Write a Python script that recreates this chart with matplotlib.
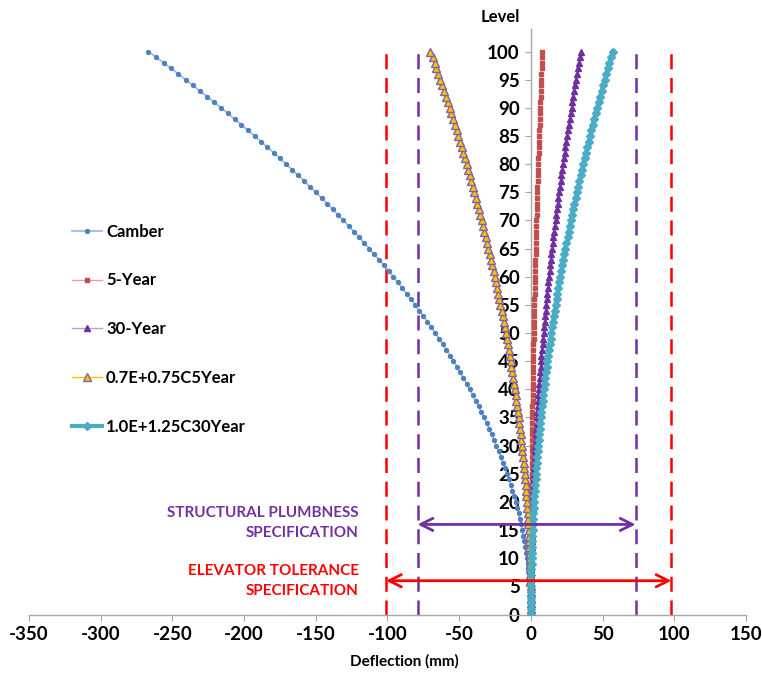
import matplotlib
matplotlib.use('Agg')
import matplotlib.pyplot as plt

plt.rcParams['font.family'] = ['Lato', 'DejaVu Sans']
plt.rcParams['font.weight'] = 'bold'
plt.rcParams['axes.unicode_minus'] = False

# storey levels and deflections (mm)
levels = list(range(101))

camber = [0.0, 0.0, -0.1, -0.2, -0.4, -0.7, -1.0, -1.3, -1.7, -2.2,
          -2.7, -3.2, -3.8, -4.5, -5.2, -6.0, -6.8, -7.7, -8.6, -9.6,
          -10.7, -11.8, -12.9, -14.1, -15.4, -16.7, -18.0, -19.4, -20.9, -22.4,
          -24.0, -25.6, -27.3, -29.0, -30.8, -32.7, -34.6, -36.5, -38.5, -40.6,
          -42.7, -44.8, -47.0, -49.3, -51.6, -54.0, -56.4, -58.9, -61.4, -64.0,
          -66.7, -69.4, -72.1, -74.9, -77.8, -80.7, -83.6, -86.7, -89.7, -92.8,
          -96.0, -99.2, -102.5, -105.9, -109.2, -112.7, -116.2, -119.7, -123.3, -127.0,
          -130.7, -134.4, -138.3, -142.1, -146.0, -150.0, -154.0, -158.1, -162.3, -166.4,
          -170.7, -175.0, -179.3, -183.7, -188.2, -192.7, -197.3, -201.9, -206.5, -211.3,
          -216.0, -220.9, -225.7, -230.7, -235.7, -240.7, -245.8, -250.9, -256.1, -261.4,
          -266.7]

year5 = [0.0, 0.0, 0.0, 0.0, 0.0, 0.0, 0.0, 0.0, 0.1, 0.1,
         0.1, 0.1, 0.1, 0.1, 0.2, 0.2, 0.2, 0.2, 0.3, 0.3,
         0.3, 0.4, 0.4, 0.4, 0.5, 0.5, 0.5, 0.6, 0.6, 0.7,
         0.7, 0.8, 0.8, 0.9, 0.9, 1.0, 1.0, 1.1, 1.2, 1.2,
         1.3, 1.3, 1.4, 1.5, 1.5, 1.6, 1.7, 1.8, 1.8, 1.9,
         2.0, 2.1, 2.2, 2.2, 2.3, 2.4, 2.5, 2.6, 2.7, 2.8,
         2.9, 3.0, 3.1, 3.2, 3.3, 3.4, 3.5, 3.6, 3.7, 3.8,
         3.9, 4.0, 4.1, 4.3, 4.4, 4.5, 4.6, 4.7, 4.9, 5.0,
         5.1, 5.2, 5.4, 5.5, 5.6, 5.8, 5.9, 6.1, 6.2, 6.3,
         6.5, 6.6, 6.8, 6.9, 7.1, 7.2, 7.4, 7.5, 7.7, 7.8,
         8.0]

year30 = [0.0, 0.0, 0.0, 0.0, 0.1, 0.1, 0.1, 0.2, 0.2, 0.3,
          0.4, 0.4, 0.5, 0.6, 0.7, 0.8, 0.9, 1.0, 1.1, 1.3,
          1.4, 1.5, 1.7, 1.9, 2.0, 2.2, 2.4, 2.6, 2.7, 2.9,
          3.2, 3.4, 3.6, 3.8, 4.0, 4.3, 4.5, 4.8, 5.1, 5.3,
          5.6, 5.9, 6.2, 6.5, 6.8, 7.1, 7.4, 7.7, 8.1, 8.4,
          8.8, 9.1, 9.5, 9.8, 10.2, 10.6, 11.0, 11.4, 11.8, 12.2,
          12.6, 13.0, 13.5, 13.9, 14.3, 14.8, 15.2, 15.7, 16.2, 16.7,
          17.2, 17.6, 18.1, 18.7, 19.2, 19.7, 20.2, 20.8, 21.3, 21.8,
          22.4, 23.0, 23.5, 24.1, 24.7, 25.3, 25.9, 26.5, 27.1, 27.7,
          28.4, 29.0, 29.6, 30.3, 30.9, 31.6, 32.3, 32.9, 33.6, 34.3,
          35.0]

combo5 = [0.0, 0.0, 0.0, -0.1, -0.1, -0.2, -0.3, -0.3, -0.4, -0.6,
          -0.7, -0.8, -1.0, -1.2, -1.4, -1.6, -1.8, -2.0, -2.3, -2.5,
          -2.8, -3.1, -3.4, -3.7, -4.0, -4.4, -4.7, -5.1, -5.5, -5.9,
          -6.3, -6.7, -7.2, -7.6, -8.1, -8.6, -9.1, -9.6, -10.1, -10.6,
          -11.2, -11.8, -12.3, -12.9, -13.6, -14.2, -14.8, -15.5, -16.1, -16.8,
          -17.5, -18.2, -18.9, -19.7, -20.4, -21.2, -22.0, -22.7, -23.5, -24.4,
          -25.2, -26.0, -26.9, -27.8, -28.7, -29.6, -30.5, -31.4, -32.4, -33.3,
          -34.3, -35.3, -36.3, -37.3, -38.3, -39.4, -40.4, -41.5, -42.6, -43.7,
          -44.8, -45.9, -47.1, -48.2, -49.4, -50.6, -51.8, -53.0, -54.2, -55.4,
          -56.7, -58.0, -59.2, -60.5, -61.9, -63.2, -64.5, -65.9, -67.2, -68.6,
          -70.0]

combo30 = [0.0, 0.0, 0.0, 0.1, 0.1, 0.1, 0.2, 0.3, 0.4, 0.5,
           0.6, 0.7, 0.8, 1.0, 1.1, 1.3, 1.5, 1.6, 1.8, 2.1,
           2.3, 2.5, 2.8, 3.0, 3.3, 3.6, 3.9, 4.2, 4.5, 4.8,
           5.1, 5.5, 5.8, 6.2, 6.6, 7.0, 7.4, 7.8, 8.2, 8.7,
           9.1, 9.6, 10.1, 10.5, 11.0, 11.5, 12.1, 12.6, 13.1, 13.7,
           14.3, 14.8, 15.4, 16.0, 16.6, 17.2, 17.9, 18.5, 19.2, 19.8,
           20.5, 21.2, 21.9, 22.6, 23.3, 24.1, 24.8, 25.6, 26.4, 27.1,
           27.9, 28.7, 29.5, 30.4, 31.2, 32.1, 32.9, 33.8, 34.7, 35.6,
           36.5, 37.4, 38.3, 39.3, 40.2, 41.2, 42.2, 43.1, 44.1, 45.1,
           46.2, 47.2, 48.2, 49.3, 50.4, 51.4, 52.5, 53.6, 54.7, 55.9,
           57.0]

# specification limits (mm) and the level of their arrows
plumb_limits = [-79, 73]
plumb_level = 16
elev_limits = [-101, 98]
elev_level = 6

purple = '#7030A0'
red = '#FF0000'

fig = plt.figure(figsize=(7.62, 6.73), dpi=100)
ax = fig.add_axes([0.038, 0.0869, 0.941, 0.870])

ax.plot(camber, levels, '-', color='#95B8E3', lw=1.2, marker='o', ms=2.8,
        mfc='#4F81BD', mec='#4F81BD', label='Camber', zorder=3)
ax.plot(year5, levels, '-', color='#E6A09E', lw=1, marker='s', ms=3.5,
        mfc='#C0504D', mec='#C0504D', label='5-Year', zorder=4)
ax.plot(year30, levels, '-', color='#B9A0D8', lw=1, marker='^', ms=3.8,
        mfc=purple, mec=purple, label='30-Year', zorder=5)
ax.plot(combo5, levels, '-', color='#FFC000', lw=1, marker='^', ms=6,
        mfc='#FFC000', mec='#8064A2', mew=1, label='0.7E+0.75C5Year', zorder=6)
ax.plot(combo30, levels, '-', color='#4BACC6', lw=3, marker='D', ms=4.5,
        mfc='#4BACC6', mec='#4BACC6', label='1.0E+1.25C30Year', zorder=7)

for xv in plumb_limits:
    ax.plot([xv, xv], [0, 100], color=purple, lw=1.8, dashes=(6, 3.5), zorder=2)
for xv in elev_limits:
    ax.plot([xv, xv], [0, 100], color=red, lw=1.8, dashes=(6, 3.5), zorder=2)

ax.annotate('', xy=(plumb_limits[0], plumb_level), xytext=(plumb_limits[1], plumb_level),
            arrowprops=dict(arrowstyle='<->', color=purple, lw=2, shrinkA=0, shrinkB=0,
                            mutation_scale=22), zorder=8)
ax.annotate('', xy=(elev_limits[0], elev_level), xytext=(elev_limits[1], elev_level),
            arrowprops=dict(arrowstyle='<->', color=red, lw=2, shrinkA=0, shrinkB=0,
                            mutation_scale=22), zorder=8)

ax.text(-120, 16.2, 'STRUCTURAL PLUMBNESS\nSPECIFICATION', color=purple, fontsize=11,
        fontweight='bold', ha='right', va='center', multialignment='right', linespacing=1.55)
ax.text(-120, 6.0, 'ELEVATOR TOLERANCE\nSPECIFICATION', color=red, fontsize=11,
        fontweight='bold', ha='right', va='center', multialignment='right', linespacing=1.55)

ax.set_xlim(-350, 150)
ax.set_ylim(0, 104)
ax.set_xticks(range(-350, 151, 50))
ax.set_yticks(range(0, 101, 5))
for s in ['top', 'right']:
    ax.spines[s].set_visible(False)
ax.spines['left'].set_position(('data', 0))
for s in ['left', 'bottom']:
    ax.spines[s].set_color('#A6A6A6')
    ax.spines[s].set_linewidth(1)
ax.tick_params(axis='both', direction='out', length=4, color='#A6A6A6',
               labelsize=13.5, labelcolor='black', pad=4)
ax.set_facecolor('none')

fig.text(404 / 762, 1 - 661 / 673, 'Deflection (mm)', ha='center', va='center',
         fontsize=11, fontweight='bold')
fig.text(520 / 762, 1 - 17 / 673, 'Level', ha='right', va='center',
         fontsize=12, fontweight='bold')

ax.legend(loc='upper left', bbox_to_anchor=(0.0506, 0.679), frameon=False, fontsize=12,
          numpoints=1, handlelength=1.8, handletextpad=0.25, labelspacing=1.97,
          borderaxespad=0)

plt.savefig('out.png', dpi=100)
